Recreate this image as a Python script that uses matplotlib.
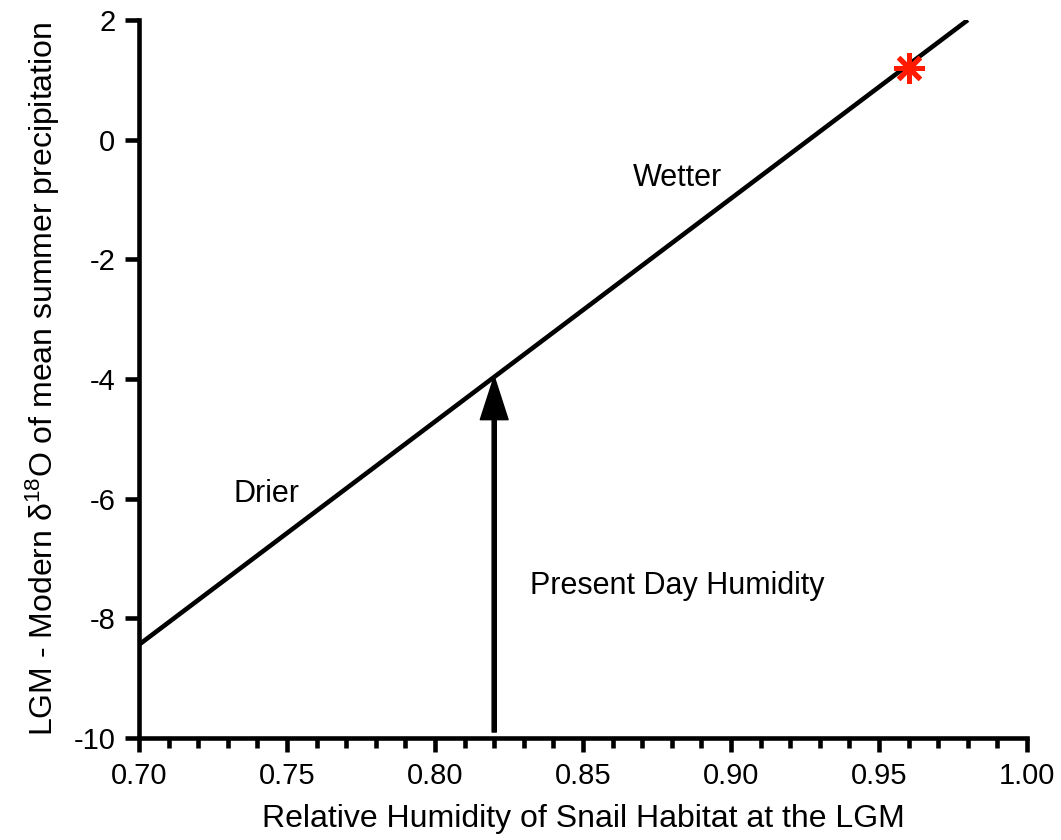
import matplotlib
matplotlib.use('Agg')
from matplotlib import pyplot as plt
from matplotlib.ticker import MultipleLocator, FormatStrFormatter

plt.rcParams['font.family'] = ['Liberation Sans', 'DejaVu Sans']
plt.rcParams['mathtext.fontset'] = 'custom'
plt.rcParams['mathtext.rm'] = 'Liberation Sans'
plt.rcParams['mathtext.it'] = 'Liberation Sans:italic'
plt.rcParams['axes.unicode_minus'] = False

# model line: relative humidity vs LGM - modern d18O
line_x = [0.70, 0.98]
line_y = [-8.44, 2.0]

# present day humidity arrow
arrow_x = 0.82
arrow_y0 = -9.9
arrow_y1 = -3.96

# LGM estimate
star_x = [0.96]
star_y = [1.2]

labels = ['Wetter', 'Drier', 'Present Day Humidity']
label_x = [0.867, 0.732, 0.832]
label_y = [-0.64, -5.93, -7.46]

fig = plt.figure(figsize=(10.61, 8.40), dpi=100)
ax = fig.add_axes([0.131, 0.1214, 0.837, 0.8548])

ax.plot(line_x, line_y, color='black', lw=3.3, solid_capstyle='butt', zorder=3)
ax.plot(star_x, star_y, linestyle='none', marker=(8, 2, 0), markersize=22,
        markeredgewidth=3.6, color='#ff1a00', zorder=4)

ax.annotate('', xy=(arrow_x, arrow_y1), xytext=(arrow_x, arrow_y0),
            arrowprops=dict(width=3, headwidth=20, headlength=31,
                            shrink=0, color='black'), zorder=3)

for t, x, y in zip(labels, label_x, label_y):
    ax.text(x, y, t, fontsize=22, ha='left', va='center')

ax.set_xlim(0.70, 1.00)
ax.set_ylim(-10, 2)
ax.xaxis.set_major_locator(MultipleLocator(0.05))
ax.xaxis.set_minor_locator(MultipleLocator(0.01))
ax.xaxis.set_major_formatter(FormatStrFormatter('%.2f'))
ax.yaxis.set_major_locator(MultipleLocator(2))

for s in ['top', 'right']:
    ax.spines[s].set_visible(False)
for s in ['left', 'bottom']:
    ax.spines[s].set_linewidth(3.3)

ax.tick_params(which='major', length=10, width=3.3, labelsize=21, pad=7)
ax.tick_params(which='minor', length=7, width=3.3)

ax.set_xlabel('Relative Humidity of Snail Habitat at the LGM', fontsize=23, labelpad=10)
ax.set_ylabel(r'LGM - Modern δ$^{18}$O of mean summer precipitation', fontsize=23, labelpad=8)

fig.savefig('out.png', dpi=100)
